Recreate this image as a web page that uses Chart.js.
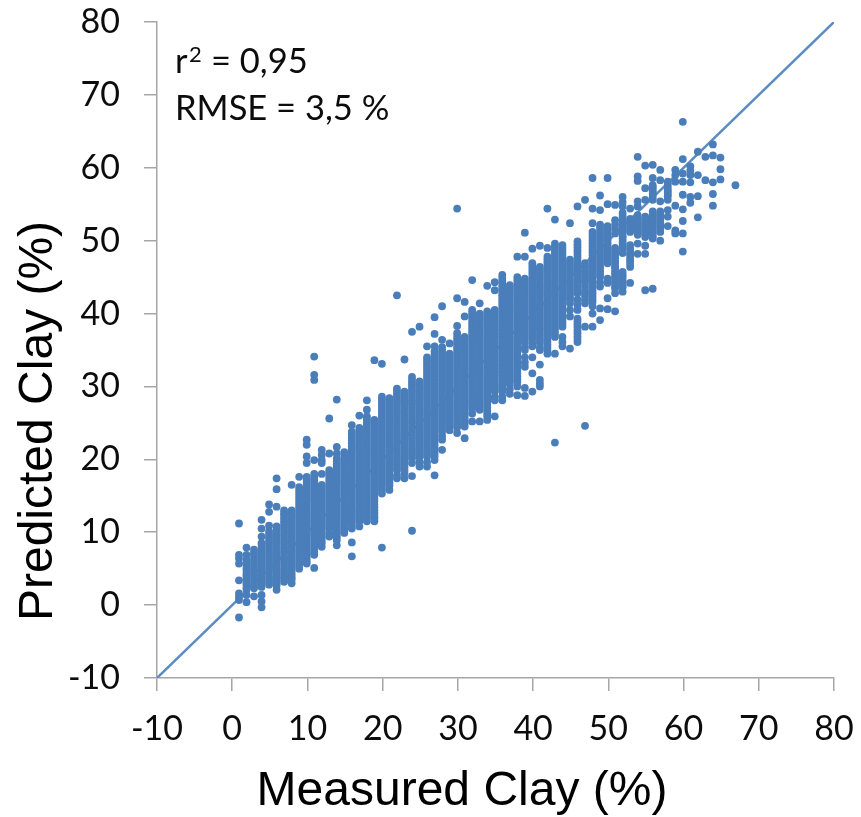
<!DOCTYPE html>
<html><head><meta charset="utf-8">
<style>html,body{margin:0;padding:0;background:#fff}canvas{display:block}</style>
<script src="https://cdn.jsdelivr.net/npm/chart.js@4"></script>
</head><body><canvas id="c" width="861" height="817"></canvas>
<script>
const tickValues = [-10,0,10,20,30,40,50,60,70,80];
const lineX = [-10,80];
const lineY = [-10,80];
const xTitle = "Measured Clay (%)";
const yTitle = "Predicted Clay (%)";
const noteR = ["r","2","= 0,95"];
const noteRmse = "RMSE = 3,5 %";
const measured = [1,2,3,4,5,6,7,8,9,10,11,12,13,14,15,16,17,18,19,20,21,22,23,24,25,26,27,28,29,30,31,32,33,34,35,36,37,38,39,40,41,42,43,44,45,46,47,48,49,50,51,52,53,54,55,56,57,58,59,60,61,62,63,64,65,67];
const predicted = [
[11.2,6.9,6.4,5.7,3.4,1.6,1.1,0.7,-1.7],
[7.9,6.9,6.2,5.8,5.5,5.1,4.8,4.4,4.1,3.8,3.5,3.1,2.8,2.4,2.1,1.4,0.4],
[7.6,7.2,6.9,6.5,6.1,5.7,5.3,4.9,4.6,4.2,3.9,3.5,3.1,2.7,2.3,1.2],
[11.7,10.5,9.4,8.5,8.1,7.7,7.3,6.9,6.5,6.1,5.7,5.3,4.9,4.5,4.1,3.7,3.3,3,2.5,1.4,0.5,-0.3],
[13.8,12.8,10.9,10.1,9.7,9.3,8.9,8.5,8.1,7.7,7.3,6.9,6.5,6.1,5.7,5.3,4.9,4.5,4,3.6,3.2,2.8],
[17.4,15.9,13.5,10.8,10.4,10,9.5,9.1,8.7,8.3,7.8,7.4,7,6.6,6.2,5.8,5.4,5,4.6,4.2,3.8,3.4,3,2.7,2.1],
[13,12.6,12.3,11.9,11.5,11.1,10.7,10.3,9.9,9.5,9.1,8.7,8.3,7.9,7.5,7.1,6.7,6.3,5.9,5.5,5.1,4.7,4.3,3.9,3.6,3.2],
[16.5,13,12.6,12.2,11.8,11.4,11,10.6,10.2,9.8,9.4,9,8.6,8.2,7.8,7.4,7,6.6,6.2,5.8,5.4,5,4.6,4.2,3.8,3.5,3],
[17.6,16.2,15.8,15.4,15,14.6,14.2,13.8,13.4,13,12.6,12.2,11.8,11.4,11,10.6,10.2,9.8,9.4,9,8.6,8.2,7.8,7.4,7,6.6,6.2,5.8,5.4,5],
[22.7,22,20.4,19.5,17.6,17.2,16.8,16.4,16,15.6,15.2,14.8,14.4,14,13.6,13.2,12.8,12.4,12,11.6,11.2,10.8,10.4,10,9.6,9.2,8.8,8.4,8,7.6,7.2,6.8,6.4,6,5.7],
[34.1,31.6,30.9,19.9,18,17.6,17.2,16.8,16.4,16,15.6,15.2,14.8,14.4,14,13.6,13.2,12.8,12.4,12,11.6,11.2,10.8,10.4,10,9.6,9.2,8.8,8.4,8,7.6,7.2,6.9,5.1],
[21.3,20.6,19.9,19.5,18,16.5,16.1,15.7,15.3,14.9,14.5,14.1,13.7,13.3,12.9,12.5,12.1,11.7,11.3,10.9,10.5,10.1,9.7,9.3,8.9,8.5,8],
[25.6,20.8,18.5,18.1,17.7,17.3,16.9,16.5,16.1,15.7,15.3,14.9,14.5,14.1,13.7,13.3,12.9,12.5,12.1,11.7,11.3,10.9,10.5,9.9,9.4],
[28.2,21.7,20.8,20.1,19.7,19.3,18.9,18.5,18.1,17.7,17.3,16.9,16.5,16.1,15.7,15.3,14.9,14.5,14.1,13.7,13.3,12.9,12.5,12.1,11.7,11.3,10.9,10.5,10.1,9.7,9.3,8.9,8.2],
[21,20.6,20.2,19.8,19.4,19,18.6,18.2,17.8,17.4,17,16.6,16.2,15.8,15.4,15,14.6,14.2,13.8,13.4,13,12.6,12.2,11.8,11.4,11,10.6,10.2,9.9],
[24.7,23.8,23.4,23,22.6,22.2,21.8,21.4,21,20.6,20.2,19.8,19.4,19,18.6,18.2,17.8,17.4,17,16.6,16.2,15.8,15.4,15,14.6,14.2,13.8,13.4,13,12.6,12.2,11.8,11.4,11,10.5,8.6,6.7],
[26,24.3,23.9,23.5,23.1,22.7,22.3,21.9,21.5,21.1,20.7,20.3,19.9,19.5,19.1,18.7,18.3,17.9,17.5,17.1,16.7,16.3,15.9,15.5,15.1,14.7,14.3,13.9,13.5,13.1,12.7,12.3,11.9,11.5,10.8],
[28.1,26.8,25.9,25.5,25.1,24.7,24.3,23.9,23.5,23.1,22.7,22.3,21.9,21.5,21.1,20.7,20.3,19.9,19.5,19.1,18.7,18.3,17.9,17.5,17.1,16.7,16.3,15.9,15.5,15.1,14.7,14.3,13.9,13.5,13.1,12.7,12.3,11.9,11.5],
[33.6,25.4,25,24.6,24.2,23.8,23.4,23,22.6,22.2,21.8,21.4,21,20.6,20.2,19.8,19.4,19,18.6,18.2,17.8,17.4,17,16.6,16.2,15.8,15.4,15,14.6,14.2,13.8,13.4,13,12.6,12.2,11.9,11.5],
[33.1,28.6,28.2,27.8,27.4,27,26.6,26.2,25.8,25.4,25,24.6,24.2,23.8,23.4,23,22.6,22.2,21.8,21.4,21,20.6,20.2,19.8,19.4,19,18.6,18.2,17.8,17.4,17,16.6,16.2,15.8,15.3,7.9],
[28.4,28,27.6,27.2,26.8,26.4,26,25.6,25.2,24.8,24.4,24,23.6,23.2,22.8,22.4,22,21.6,21.2,20.8,20.4,20,19.6,19.2,18.8,18.4,18,17.6,17.2,16.8,16.4,15.8],
[42.5,29.7,29.3,28.9,28.5,28.1,27.7,27.3,26.9,26.5,26.1,25.7,25.3,24.9,24.5,24.1,23.7,23.3,22.9,22.5,22.1,21.7,21.3,20.9,20.5,20.1,19.7,19.3,18.9,18.5,17.8,17.4],
[33.7,29.3,28.9,28.5,28.1,27.7,27.3,26.9,26.5,26.1,25.7,25.3,24.9,24.5,24.1,23.7,23.3,22.9,22.5,22.1,21.7,21.3,20.9,20.5,20.1,19.7,19.3,18.9,18.5,18.1,17.4],
[37.5,31.3,30.9,30.5,30.1,29.7,29.3,28.9,28.5,28.1,27.7,27.3,26.9,26.5,26.1,25.7,25.3,24.9,24.5,24.1,23.7,23.3,22.9,22.5,22.1,21.7,21.3,20.9,20.5,20.1,19.5,17.7,10.2],
[38.2,30.7,30.3,29.9,29.5,29.1,28.7,28.3,27.9,27.5,27.1,26.7,26.3,25.9,25.5,25.1,24.7,24.3,23.9,23.5,23.1,22.7,22.3,21.9,21.5,21.1,20.7,20.3,19.6,19],
[35.5,34,33.6,33.2,32.8,32.4,32,31.6,31.2,30.8,30.4,30,29.6,29.2,28.8,28.4,28,27.6,27.2,26.8,26.4,26,25.6,25.2,24.8,24.4,24,23.6,23.2,22.8,22.4,22,21.6,21.2,20.8,20.4,19.6,19],
[39.5,37.2,35.5,34.8,34.4,34,33.6,33.2,32.8,32.4,32,31.6,31.2,30.8,30.4,30,29.6,29.2,28.8,28.4,28,27.6,27.2,26.8,26.4,26,25.6,25.2,24.8,24.4,24,23.6,23.2,22.8,22.4,22,21.6,21.2,20.8,20.4,19.9,17.8],
[41,36.4,35.4,35,34.6,34.2,33.8,33.4,33,32.6,32.2,31.8,31.4,31,30.6,30.2,29.8,29.4,29,28.6,28.2,27.8,27.4,27,26.6,26.2,25.8,25.4,25,24.6,24.2,23.8,23.2,22.7,21.3],
[35.9,34.5,34.1,33.7,33.3,32.9,32.5,32.1,31.7,31.3,30.9,30.5,30.1,29.7,29.3,28.9,28.5,28.1,27.7,27.3,26.9,26.5,26.1,25.7,25.3,24.9,24.5,24],
[54.4,42.1,38.3,37.3,36.8,36.4,36,35.6,35.2,34.8,34.4,34,33.6,33.2,32.8,32.4,32,31.6,31.2,30.8,30.4,30,29.6,29.2,28.8,28.4,28,27.6,27.2,26.8,26.4,26,25.6,25.2,24.8,24.4,23.6],
[41.6,39.6,36.8,36.4,36,35.6,35.2,34.8,34.4,34,33.6,33.2,32.8,32.4,32,31.6,31.2,30.8,30.4,30,29.6,29.2,28.8,28.4,28,27.6,27.2,26.8,26.4,26,25.6,25.2,24.9,24.5,22.9],
[44.6,40.5,40.1,39.7,39.3,38.9,38.5,38.1,37.7,37.3,36.9,36.5,36.1,35.7,35.3,34.9,34.5,34.1,33.7,33.3,32.9,32.5,32.1,31.7,31.3,30.9,30.5,30.1,29.7,29.3,28.9,28.5,28.1,27.7,27.3,26.9,26.3,25.2],
[41.4,40,39.6,39.2,38.8,38.4,38,37.6,37.2,36.8,36.4,36,35.6,35.2,34.8,34.4,34,33.6,33.2,32.8,32.4,32,31.6,31.2,30.8,30.4,30,29.6,29.2,28.8,28.4,28,27.6,27.3,26.8,25.2],
[43.8,40.3,39.9,39.5,39.1,38.7,38.3,37.9,37.5,37.1,36.7,36.3,35.9,35.5,35.1,34.7,34.3,33.9,33.5,33.1,32.7,32.3,31.9,31.5,31.1,30.7,30.3,29.9,29.5,29.1,28.7,28.3,27.9,27.5,27.1,26.7,26.3,25.9,25.4],
[44.3,43.2,40.5,40.1,39.7,39.3,38.9,38.5,38.1,37.7,37.3,36.9,36.5,36.1,35.7,35.3,34.9,34.5,34.1,33.7,33.3,32.9,32.5,32.1,31.7,31.3,30.9,30.5,30.1,29.7,29.3,28.6,28.1,25.9],
[45.3,44.9,44.5,44.1,43.7,43.3,42.9,42.5,42.1,41.7,41.3,40.9,40.5,40.1,39.7,39.3,38.9,38.5,38.1,37.7,37.3,36.9,36.5,36.1,35.7,35.3,34.9,34.5,34.1,33.7,33.3,32.9,32.5,32.1,31.7,31.3,30.9,30.5,30.1,29.7,29.3,28.6,28.1],
[43.9,43.5,43.1,42.7,42.3,41.9,41.5,41.1,40.7,40.3,39.9,39.5,39.1,38.7,38.3,37.9,37.5,37.1,36.7,36.3,35.9,35.5,35.1,34.7,34.3,33.9,33.5,33.1,32.7,32.3,31.9,31.5,31.1,30.7,30.3,29.6,29],
[47.8,45,44.6,44.2,43.8,43.4,43,42.6,42.2,41.8,41.4,41,40.6,40.2,39.8,39.4,39,38.6,38.2,37.8,37.4,37,36.6,36.2,35.8,35.4,35,34.6,34.2,33.8,33.4,33,32.6,32.2,31.8,31.4,31,30.6,30,28.8],
[51.1,47.8,44.8,44.4,44,43.6,43.2,42.8,42.4,42,41.6,41.2,40.8,40.4,40,39.6,39.2,38.8,38.4,38,37.6,37.2,36.8,36.4,36,35.4,35,34,33.3,32.7,29.8,28.7],
[48.9,46.9,46.5,46.1,45.7,45.3,44.9,44.5,44.1,43.7,43.3,42.9,42.5,42.1,41.7,41.3,40.9,40.5,40.1,39.7,39.3,38.9,38.5,38.1,37.7,37.3,36.9,36.5,35.9,35.5,34,31.8,29.3],
[49.3,46.4,46,45.6,45.2,44.8,44.4,44,43.6,43.2,42.8,42.4,42,41.6,41.2,40.8,40.4,40,39.6,39.2,38.8,38.4,38,37.6,37.2,36.8,36.4,36,35.4,35,33,30.9,30.4,30],
[54.4,49,47.8,47.4,47,46.6,46.2,45.8,45.4,45,44.6,44.2,43.8,43.4,43,42.6,42.2,41.8,41.4,41,40.6,40.2,39.8,39.4,39,38.6,38.2,37.8,37.4,37,36.6,36.2,35.8,35.4,35,34.5],
[52.9,49.6,49.2,48.8,48.4,48,47.6,47.2,46.8,46.4,46,45.6,45.2,44.8,44.4,44,43.6,43.2,42.8,42.4,42,41.6,41.2,40.8,40.4,40,39.6,39.2,38.8,38.4,38,37.6,37.2,36.8,34.5,22.3],
[49.4,49,48.6,48.2,47.8,47.4,47,46.6,46.2,45.8,45.4,45,44.6,44.2,43.8,43.4,43,42.6,42.2,41.8,41.4,41,40.6,40.2,39.8,39.4,39,38.6,38.2,36.8,36.1,35.5],
[52.4,47.4,47,46.6,46.2,45.8,45.4,45,44.6,44.2,43.8,43.4,43,42.6,42.2,41.9,41.4,40.5,39.6,35.2],
[54.7,49.9,49.5,49.1,48.7,48.3,47.9,47.5,47.1,46.7,46.3,45.9,45.5,45.1,44.7,44.3,43.9,43.5,43.1,42.8,41.9,41.2,40.5,39.3,38.9,38.5,38.1,37.7,37.3,36.9,36.5,36.1],
[55.6,46.9,46.5,46.2,45.8,45.5,45.1,44.8,44.5,44.2,43.7,43.2,42.8,42.4,41.9,41.4,38.2,24.6],
[58.6,54.4,52.4,51.2,50.8,50.4,50,49.6,49.2,48.8,48.4,48,47.6,47.2,46.8,46.4,46,45.6,45.2,44.8,44.4,44,43.6,43.2,42.8,42.4,42,41.6,41,40,38.2],
[56.2,54.2,52.2,51.8,51.4,51,50.6,50.2,49.8,49.4,49,48.6,48.2,47.8,47.4,47,46.6,46.2,45.8,45.4,45,44.3,43.7,40.7,39.1],
[58.6,55,52,51.6,51.2,50.8,50.4,50,49.6,49.2,48.8,48.4,48.1,47.7,47.4,46.9,44.8,44.2,42.1,40.6],
[54.9,52.8,52.2,51.6,51,49,48.6,48.3,47.9,47.6,47.2,46.9,46.5,46.2,45.8,45.5,45.1,44.8,44.4,44.1,43.7,43.4,42.8,40.3],
[56,55.3,54.7,53.8,53.4,53.1,52.7,52.4,52,51.7,51.3,51,50.6,50.3,49.9,49.6,49.2,48.9,48.3,45.7,45.3,45,44.6,44.3,43.9,43.6,43],
[54.4,53,52.7,52.4,52.1,51.8,51.5,51.2,49.4,49,48.6,48.2,47.9,47.5,47.2,46.8,46.4,44.2],
[61.5,58.8,58.2,55.4,54.7,53.5,53.1,52.8,52.4,52.1,51.7,51.4,51.1,50.8,49.6,48.2],
[60.3,57.2,55.6,53.3,53,52.7,52.4,52.1,51.8,51.5,51.2,50.9,50.5,49.3,48.2,43.2],
[60.4,58.6,57.6,57.3,57,56.7,56.4,56,55.6,54,53.6,53.3,52.9,52.6,52.2,51.9,51.5,51.2,50.9,50.6,50.3,43.4],
[59.7,58.3,55.4,54,53.7,53.4,53.1,52.8,52.5,52.2,51.9,51.6,51.2,50],
[58.1,57.8,57.4,57,56.7,56.4,56.1,55.6,54.2,53.3,52],
[59.7,59,58.1,54.8,51.4,51],
[66.3,61.2,59.2,58.1,56.3,54.3,52.7,51,48.5],
[60.2,59.6,59,58,56,55.2],
[62.2,59,56.1,53.2],
[61.5,58.3],
[63.2,61.7,58,56.4,54.8],
[61.4,59.8,58.4],
[57.6]
];

const scatterPoints = [];
measured.forEach((m, i) => predicted[i].forEach(p => scatterPoints.push({x: m - 0.1, y: p})));
const linePoints = lineX.map((x, i) => ({x, y: lineY[i]}));

const axisGrey = "#a6a6a6";
const tickFont = {family: "Lato", size: 34};
const inkColor = "#0c0c0c";

const notes = {
  id: "notes",
  afterDatasetsDraw(chart) {
    const c = chart.ctx;
    c.save();
    c.fillStyle = inkColor;
    c.textBaseline = "alphabetic";
    c.font = "34.5px Lato";
    c.fillText(noteR[0], 175, 73);
    c.fillText(noteR[2], 211, 73);
    c.fillText(noteRmse, 175, 120);
    c.font = "22px Lato";
    c.fillText(noteR[1], 189, 62);
    c.fillStyle = "#000";
    c.font = "48px 'Liberation Sans'";
    c.textAlign = "center";
    c.fillText(xTitle, 462, 805);
    c.translate(52, 421);
    c.rotate(-Math.PI / 2);
    c.fillText(yTitle, 0, 0);
    c.restore();
  }
};

function axis(fitKey, fitValue, labelPad) {
  return {
    type: "linear", min: -10, max: 80,
    afterBuildTicks(s) { s.ticks = tickValues.map(v => ({value: v})); },
    afterFit(s) {
      s[fitKey] = fitValue;
      s.paddingLeft = s.paddingRight = s.paddingTop = s.paddingBottom = 0;
    },
    grid: {drawOnChartArea: false, drawTicks: true, tickLength: 13, color: axisGrey, lineWidth: 1.5},
    border: {color: axisGrey, width: 1.5},
    ticks: {font: tickFont, color: inkColor, padding: labelPad, maxRotation: 0, autoSkip: false, includeBounds: true}
  };
}

new Chart(document.getElementById("c"), {
  type: "scatter",
  data: {datasets: [
    {data: linePoints, showLine: true, borderColor: "#5b8cc4", borderWidth: 2.5, pointRadius: 0, order: 2},
    {data: scatterPoints, showLine: false, backgroundColor: "#4a7ebb", borderWidth: 0, pointRadius: 3.9, order: 1}
  ]},
  options: {
    responsive: false, animation: false,
    layout: {padding: {left: 0, top: 22, right: 27, bottom: 0}},
    plugins: {legend: {display: false}, tooltip: {enabled: false}},
    scales: {
      x: axis("height", 139, 18),
      y: axis("width", 157, 24)
    }
  },
  plugins: [notes]
});
</script></body></html>
